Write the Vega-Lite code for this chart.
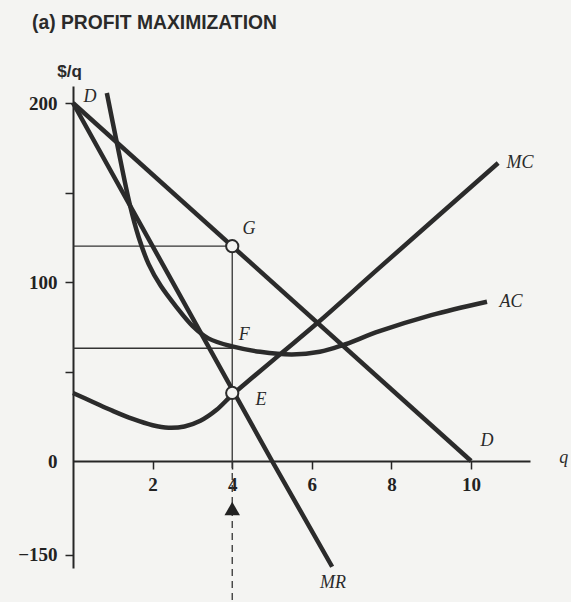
{
  "$schema": "https://vega.github.io/schema/vega-lite/v6.json",
  "width": 457,
  "height": 482,
  "autosize": "none",
  "padding": {"left": 73, "top": 86, "right": 41, "bottom": 34},
  "background": "#f4f4f2",
  "title": {"text": "(a) PROFIT MAXIMIZATION", "anchor": "start", "frame": "group", "dx": -41, "offset": 14, "font": "Liberation Sans", "fontSize": 19.3, "fontWeight": "bold", "color": "#2a2a2a", "baseline": "alphabetic"},
  "config": {"view": {"stroke": null}},
  "datasets": {
    "lines": [
      {"curve": "D", "q": 0, "v": 200}, {"curve": "D", "q": 10, "v": 0},
      {"curve": "MR", "q": 0, "v": 200}, {"curve": "MR", "q": 5, "v": 0}, {"curve": "MR", "q": 6.51, "v": -169}
    ],
    "curves": [
      {"curve": "MC", "q": 0, "v": 38}, {"curve": "MC", "q": 0.5, "v": 33}, {"curve": "MC", "q": 1, "v": 28}, {"curve": "MC", "q": 1.5, "v": 23.5}, {"curve": "MC", "q": 2, "v": 20}, {"curve": "MC", "q": 2.4, "v": 18.6}, {"curve": "MC", "q": 2.8, "v": 19.3}, {"curve": "MC", "q": 3.2, "v": 22.5}, {"curve": "MC", "q": 3.6, "v": 28.5}, {"curve": "MC", "q": 4.0, "v": 37}, {"curve": "MC", "q": 4.5, "v": 46.5}, {"curve": "MC", "q": 5.25, "v": 60.5}, {"curve": "MC", "q": 6.16, "v": 77.5}, {"curve": "MC", "q": 7.7, "v": 108}, {"curve": "MC", "q": 10.68, "v": 166.5},
      {"curve": "AC", "q": 0.85, "v": 205.6}, {"curve": "AC", "q": 1.1, "v": 178}, {"curve": "AC", "q": 1.43, "v": 143}, {"curve": "AC", "q": 1.65, "v": 125}, {"curve": "AC", "q": 1.9, "v": 110}, {"curve": "AC", "q": 2.2, "v": 98}, {"curve": "AC", "q": 2.6, "v": 86}, {"curve": "AC", "q": 3.0, "v": 75.5}, {"curve": "AC", "q": 3.4, "v": 68.5}, {"curve": "AC", "q": 4.0, "v": 64}, {"curve": "AC", "q": 4.7, "v": 61}, {"curve": "AC", "q": 5.5, "v": 59.5}, {"curve": "AC", "q": 6.2, "v": 61}, {"curve": "AC", "q": 6.75, "v": 64.5}, {"curve": "AC", "q": 7.7, "v": 72.5}, {"curve": "AC", "q": 9, "v": 81.5}, {"curve": "AC", "q": 10.4, "v": 89}
    ],
    "guides": [
      {"q": 0, "q2": 4, "v": 120, "v2": 120},
      {"q": 0, "q2": 4, "v": 63, "v2": 63},
      {"q": 4, "q2": 4, "v": 120, "v2": 0}
    ],
    "dashed": [
      {"q": 4, "q2": 4, "v": 0, "v2": -225}
    ],
    "circles": [
      {"point": "G", "q": 4, "v": 120},
      {"point": "E", "q": 4, "v": 38}
    ],
    "arrow": [
      {"q": 4, "v": -76}
    ],
    "labels": [
      {"text": "D", "q": 0.43, "v": 203.4},
      {"text": "G", "q": 4.42, "v": 129.6},
      {"text": "F", "q": 4.3, "v": 70.4},
      {"text": "E", "q": 4.72, "v": 34.1},
      {"text": "MC", "q": 11.23, "v": 166.5},
      {"text": "AC", "q": 11.0, "v": 88.8},
      {"text": "D", "q": 10.4, "v": 11.2},
      {"text": "MR", "q": 6.53, "v": -195},
      {"text": "q", "q": 12.33, "v": 1.7}
    ]
  },
  "encoding": {
    "x": {
      "field": "q", "type": "quantitative",
      "scale": {"domain": [0, 11.48], "nice": false, "zero": false},
      "axis": {"orient": "bottom", "offset": -107, "values": [2, 4, 6, 8, 10], "title": null, "grid": false, "domainColor": "#262626", "domainWidth": 2, "tickColor": "#262626", "tickWidth": 1.5, "tickSize": 8, "labelFont": "Liberation Serif", "labelFontSize": 19, "labelFontWeight": "bold", "labelColor": "#222222", "labelPadding": 6}
    },
    "y": {
      "field": "v", "type": "quantitative",
      "scale": {"domain": [-171, 0, 209.5], "range": [482, 375, 0], "nice": false, "zero": false},
      "axis": {"values": [-150, 0, 50, 100, 150, 200], "grid": false, "title": "$/q", "titleAngle": 0, "titleX": -4, "titleY": -15, "titleAlign": "center", "titleBaseline": "middle", "titleFont": "Liberation Sans", "titleFontWeight": "bold", "titleFontSize": 17, "titleColor": "#2a2a2a", "labelExpr": "datum.value == 50 || datum.value == 150 ? '' : datum.label", "tickOpacity": {"condition": {"test": "datum.value == 0", "value": 0}, "value": 1}, "domainColor": "#262626", "domainWidth": 2, "tickColor": "#262626", "tickWidth": 1.5, "tickSize": 8, "labelFont": "Liberation Serif", "labelFontSize": 19, "labelFontWeight": "bold", "labelColor": "#222222", "labelPadding": 8}
    }
  },
  "layer": [
    {
      "data": {"name": "guides"},
      "mark": {"type": "rule", "color": "#333333", "strokeWidth": 1.3},
      "encoding": {"x2": {"field": "q2"}, "y2": {"field": "v2"}}
    },
    {
      "data": {"name": "dashed"},
      "mark": {"type": "rule", "color": "#333333", "strokeWidth": 1.3, "strokeDash": [7, 5]},
      "encoding": {"x2": {"field": "q2"}, "y2": {"field": "v2"}}
    },
    {
      "data": {"name": "lines"},
      "mark": {"type": "line", "strokeWidth": 4.5, "color": "#2b2b2b", "strokeCap": "butt"},
      "encoding": {"detail": {"field": "curve"}}
    },
    {
      "data": {"name": "curves"},
      "mark": {"type": "line", "interpolate": "catmull-rom", "strokeWidth": 4.5, "color": "#2b2b2b", "strokeCap": "butt"},
      "encoding": {"detail": {"field": "curve"}}
    },
    {
      "data": {"name": "circles"},
      "mark": {"type": "point", "shape": "circle", "filled": true, "fill": "#f4f4f2", "stroke": "#2b2b2b", "strokeWidth": 2, "size": 150, "opacity": 1}
    },
    {
      "data": {"name": "arrow"},
      "mark": {"type": "point", "shape": "triangle-up", "filled": true, "color": "#222222", "size": 240, "opacity": 1}
    },
    {
      "data": {"name": "labels"},
      "mark": {"type": "text", "font": "Liberation Serif", "fontStyle": "italic", "fontSize": 18, "color": "#2a2a2a", "align": "center", "baseline": "middle"},
      "encoding": {"text": {"field": "text"}}
    }
  ]
}
